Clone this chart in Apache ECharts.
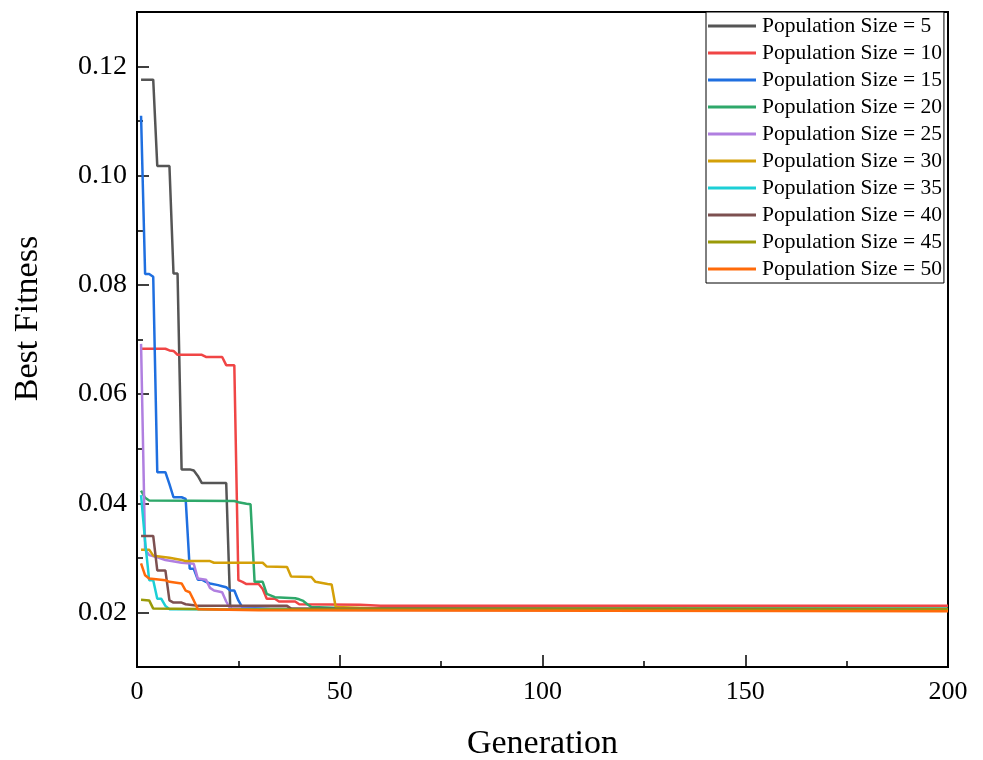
<!DOCTYPE html>
<html>
<head>
<meta charset="utf-8">
<style>
  html, body { margin: 0; padding: 0; background: #fff; }
  #chart { width: 983px; height: 760px; }
</style>
<script src="https://cdn.jsdelivr.net/npm/echarts@6/dist/echarts.min.js"></script>
</head>
<body>
<div id="chart"></div>
<script>
// Best fitness per generation for each population size: [generation, fitness] vertices
const pop5 = [[1,0.1176],[4,0.1176],[5,0.1018],[8,0.1018],[9,0.0821],[10,0.0821],[11,0.0462],[13,0.0462],[14,0.0460],[15,0.0450],[16,0.0437],[22,0.0437],[23,0.0207],[60,0.0206],[200,0.0206]];
const pop10 = [[1,0.0683],[7,0.0683],[8,0.0680],[9,0.0679],[10,0.0672],[16,0.0672],[17,0.0668],[21,0.0668],[22,0.0653],[24,0.0653],[25,0.0259],[26,0.0256],[27,0.0252],[30,0.0252],[31,0.0243],[32,0.0225],[34,0.0225],[35,0.0220],[39,0.0220],[40,0.0215],[55,0.0214],[60,0.0212],[200,0.0212]];
const pop15 = [[1,0.1110],[2,0.0820],[3,0.0820],[4,0.0815],[5,0.0457],[7,0.0457],[8,0.0435],[9,0.0411],[11,0.0411],[12,0.0408],[13,0.0280],[14,0.0280],[15,0.0260],[16,0.0260],[17,0.0256],[18,0.0253],[20,0.0250],[21,0.0248],[22,0.0246],[23,0.0240],[24,0.0240],[25,0.0222],[26,0.0209],[35,0.0205],[200,0.0204]];
const pop20 = [[1,0.0423],[2,0.0410],[3,0.0405],[24,0.0404],[25,0.0402],[27,0.0399],[28,0.0398],[29,0.0256],[31,0.0256],[32,0.0234],[34,0.0228],[39,0.0226],[40,0.0224],[41,0.0221],[42,0.0215],[43,0.0210],[50,0.0208],[200,0.0207]];
const pop25 = [[1,0.0692],[2,0.0315],[3,0.0305],[5,0.0301],[7,0.0296],[11,0.0291],[14,0.0289],[15,0.0262],[17,0.0260],[18,0.0245],[19,0.0240],[21,0.0237],[22,0.0220],[23,0.0207],[40,0.0205],[200,0.0204]];
const pop30 = [[1,0.0315],[3,0.0315],[4,0.0304],[8,0.0300],[11,0.0296],[12,0.0294],[18,0.0294],[19,0.0291],[31,0.0291],[32,0.0284],[37,0.0283],[38,0.0266],[43,0.0265],[44,0.0256],[47,0.0252],[48,0.0251],[49,0.0210],[60,0.0207],[200,0.0206]];
const pop35 = [[1,0.0415],[2,0.0330],[3,0.0259],[4,0.0259],[5,0.0225],[6,0.0225],[7,0.0212],[8,0.0206],[200,0.0204]];
const pop40 = [[1,0.0340],[4,0.0340],[5,0.0277],[7,0.0277],[8,0.0222],[9,0.0218],[11,0.0218],[12,0.0215],[14,0.0213],[15,0.0212],[37,0.0212],[38,0.0207],[200,0.0205]];
const pop45 = [[1,0.0223],[3,0.0222],[4,0.0207],[20,0.0206],[200,0.0205]];
const pop50 = [[1,0.0290],[2,0.0268],[3,0.0262],[7,0.0259],[8,0.0256],[11,0.0253],[12,0.0240],[13,0.0237],[14,0.0222],[15,0.0206],[30,0.0204],[200,0.0202]];

const seriesNames = ['Population Size = 5','Population Size = 10','Population Size = 15','Population Size = 20','Population Size = 25','Population Size = 30','Population Size = 35','Population Size = 40','Population Size = 45','Population Size = 50'];
const seriesData = [pop5, pop10, pop15, pop20, pop25, pop30, pop35, pop40, pop45, pop50];
const seriesColors = ['#555555','#F04545','#1F6FE0','#2EA86A','#B07FE0','#D4A008','#1CCFD6','#7D5050','#9A9A08','#FF6A0A'];

const yMajorTicks = [0.02, 0.04, 0.06, 0.08, 0.10, 0.12];
const yMinorTicks = [0.03, 0.05, 0.07, 0.09, 0.11];

const FONT = "'Liberation Serif', 'Times New Roman', serif";

const chart = echarts.init(document.getElementById('chart'), null, { renderer: 'canvas' });

chart.setOption({
  animation: false,
  backgroundColor: '#fff',
  grid: {
    left: 137, right: 35, top: 12, bottom: 93,
    show: true, borderColor: '#000', borderWidth: 2, backgroundColor: 'transparent',
    outerBoundsMode: 'none'
  },
  legend: {
    orient: 'vertical',
    left: 706, top: 12,
    padding: [3, 2, 3, 2],
    itemGap: 5,
    itemWidth: 48,
    itemHeight: 3,
    icon: 'rect',
    backgroundColor: '#fff',
    borderColor: '#000',
    borderWidth: 1,
    borderRadius: 0,
    data: seriesNames,
    textStyle: { fontFamily: FONT, fontSize: 21.5, color: '#000', lineHeight: 20, padding: [0, 0, 0, 1] }
  },
  xAxis: {
    type: 'value',
    min: 0, max: 200, interval: 50,
    name: 'Generation',
    nameLocation: 'middle',
    nameGap: 60,
    nameTextStyle: { fontFamily: FONT, fontSize: 34, color: '#000' },
    axisLine: { show: true, onZero: false, lineStyle: { color: '#000', width: 2 } },
    axisTick: { show: true, inside: true, length: 12, lineStyle: { color: '#000', width: 1.5 } },
    minorTick: { show: true, splitNumber: 2, length: 6, lineStyle: { color: '#000', width: 1.5 } },
    axisLabel: { fontFamily: FONT, fontSize: 26, color: '#000', margin: 12 },
    splitLine: { show: false },
    minorSplitLine: { show: false }
  },
  yAxis: [{
    type: 'value',
    position: 'left',
    min: 0.01, max: 0.13,
    name: 'Best Fitness',
    nameLocation: 'middle',
    nameGap: 92,
    nameTextStyle: { fontFamily: FONT, fontSize: 34, color: '#000', padding: [0, 0, 0, 42] },
    axisLine: { show: true, onZero: false, lineStyle: { color: '#000', width: 2 } },
    axisTick: { show: true, inside: true, length: 12, customValues: yMajorTicks, lineStyle: { color: '#000', width: 1.5 } },
    axisLabel: {
      fontFamily: FONT, fontSize: 28, color: '#000', margin: 10,
      customValues: yMajorTicks,
      formatter: v => v.toFixed(2)
    },
    splitLine: { show: false }
  }, {
    type: 'value',
    position: 'left',
    min: 0.01, max: 0.13,
    axisLine: { show: false },
    axisTick: { show: true, inside: true, length: 6, customValues: yMinorTicks, lineStyle: { color: '#000', width: 1.5 } },
    axisLabel: { show: false },
    splitLine: { show: false }
  }],
  series: seriesNames.map((name, i) => ({
    name: name,
    type: 'line',
    yAxisIndex: 0,
    data: seriesData[i],
    symbol: 'none',
    showSymbol: false,
    color: seriesColors[i],
    lineStyle: { color: seriesColors[i], width: 2.5 },
    z: 2 + i
  }))
});
</script>
</body>
</html>
